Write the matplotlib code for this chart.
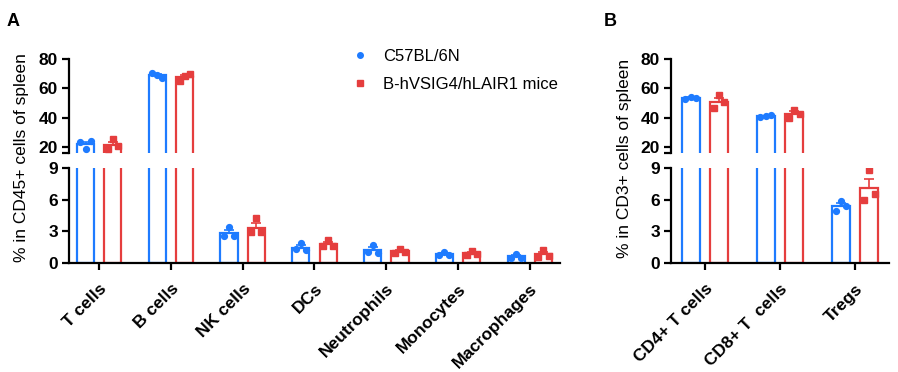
import numpy as np
import matplotlib
matplotlib.use('Agg')
import matplotlib.pyplot as plt
from matplotlib.lines import Line2D

plt.rcParams['font.family'] = ['Liberation Sans', 'DejaVu Sans']

# Panel A: % in CD45+ cells of spleen
cellsA = ['T cells', 'B cells', 'NK cells', 'DCs', 'Neutrophils', 'Monocytes', 'Macrophages']
wtA = [[23.2, 18.9, 24.1], [70.5, 69.3, 66.8], [2.55, 3.45, 2.6], [1.3, 1.85, 1.25],
       [1.0, 1.75, 0.95], [0.72, 1.0, 0.75], [0.45, 0.9, 0.5]]
koA = [[18.4, 25.4, 20.9], [65.2, 68.4, 69.6], [2.9, 4.25, 2.9], [1.6, 2.2, 1.6],
       [0.95, 1.35, 1.0], [0.8, 1.15, 0.85], [0.55, 1.25, 0.7]]

# Panel B: % in CD3+ cells of spleen
cellsB = ['CD4+ T cells', 'CD8+ T  cells', 'Tregs']
wtB = [[53.0, 54.0, 53.6], [40.5, 41.2, 41.5], [4.9, 5.9, 5.4]]
koB = [[46.5, 55.5, 51.0], [40.0, 45.5, 42.5], [6.0, 8.8, 6.5]]

groups = ['C57BL/6N', 'B-hVSIG4/hLAIR1 mice']
blue = '#1E7BFF'
red = '#E53E3E'

W, H = 898, 372
fig = plt.figure(figsize=(W / 100, H / 100), dpi=100)


def px_axes(left, right, top, bottom):
    return fig.add_axes([left / W, (H - bottom) / H, (right - left) / W, (bottom - top) / H])


def style(ax):
    for s in ['top', 'right']:
        ax.spines[s].set_visible(False)
    ax.spines['left'].set_linewidth(1.6)
    ax.spines['bottom'].set_linewidth(1.6)
    ax.tick_params(axis='both', which='both', direction='out', length=5, width=1.6,
                   labelsize=12.5, pad=3)
    ax.tick_params(axis='x', pad=8)
    for lab in ax.get_yticklabels():
        lab.set_fontweight('bold')


def draw(ax, cats, wt, ko):
    x = np.arange(len(cats))
    jit = np.array([-0.07, 0.0, 0.07])
    for vals, off, col, mk, ms in [(wt, -0.19, blue, 'o', 4.2), (ko, 0.19, red, 's', 4.5)]:
        means = np.array([np.mean(v) for v in vals])
        sems = np.array([np.std(v, ddof=1) / np.sqrt(len(v)) for v in vals])
        ax.bar(x + off, means, 0.24, fill=False, edgecolor=col, linewidth=1.6, zorder=2)
        ax.errorbar(x + off, means, yerr=[np.zeros_like(sems), sems], fmt='none',
                    ecolor=col, elinewidth=1.2, capsize=3.5, capthick=1.2, zorder=3)
        for i, v in enumerate(vals):
            ax.plot(x[i] + off + jit, v, linestyle='none', marker=mk, ms=ms,
                    color=col, zorder=4)


def panel(left, right, cats, wt, ko, xpad, ylab, ylab_x):
    up = px_axes(left, right, 59, 153)
    low = px_axes(left, right, 168, 263)
    for ax in (up, low):
        draw(ax, cats, wt, ko)
        ax.set_xlim(-xpad, len(cats) - 1 + xpad)
    up.set_ylim(15.9, 80)
    up.set_yticks([20, 40, 60, 80])
    up.set_yticks([15.9], minor=True)
    up.spines['bottom'].set_visible(False)
    up.set_xticks([])
    low.set_ylim(0, 9)
    low.set_yticks([0, 3, 6, 9])
    low.set_xticks(np.arange(len(cats)))
    low.set_xticklabels(cats, rotation=45, ha='right', rotation_mode='anchor',
                        fontweight='bold')
    style(up)
    style(low)
    up.tick_params(axis='x', length=0)
    fig.text(ylab_x / W, (H - 158) / H, ylab, rotation=90, ha='center', va='center',
             fontsize=12.5)
    return up, low


upA, lowA = panel(69, 560, cellsA, wtA, koA, 0.42, '% in CD45+ cells of spleen', 22)
upB, lowB = panel(671, 889, cellsB, wtB, koB, 0.45, '% in CD3+ cells of spleen', 625)

fig.text(7 / W, (H - 21) / H, 'A', fontsize=13, fontweight='bold', va='center')
fig.text(604 / W, (H - 21) / H, 'B', fontsize=13, fontweight='bold', va='center')

handles = [Line2D([], [], linestyle='none', marker='o', ms=4, color=blue),
           Line2D([], [], linestyle='none', marker='s', ms=4, color=red)]
fig.legend(handles, groups, loc='upper left', bbox_to_anchor=(352 / W, (H - 49) / H),
           frameon=False, fontsize=12, borderpad=0, borderaxespad=0, handlelength=1,
           handletextpad=0.86, labelspacing=0.8)

fig.savefig('out.png', dpi=100)
